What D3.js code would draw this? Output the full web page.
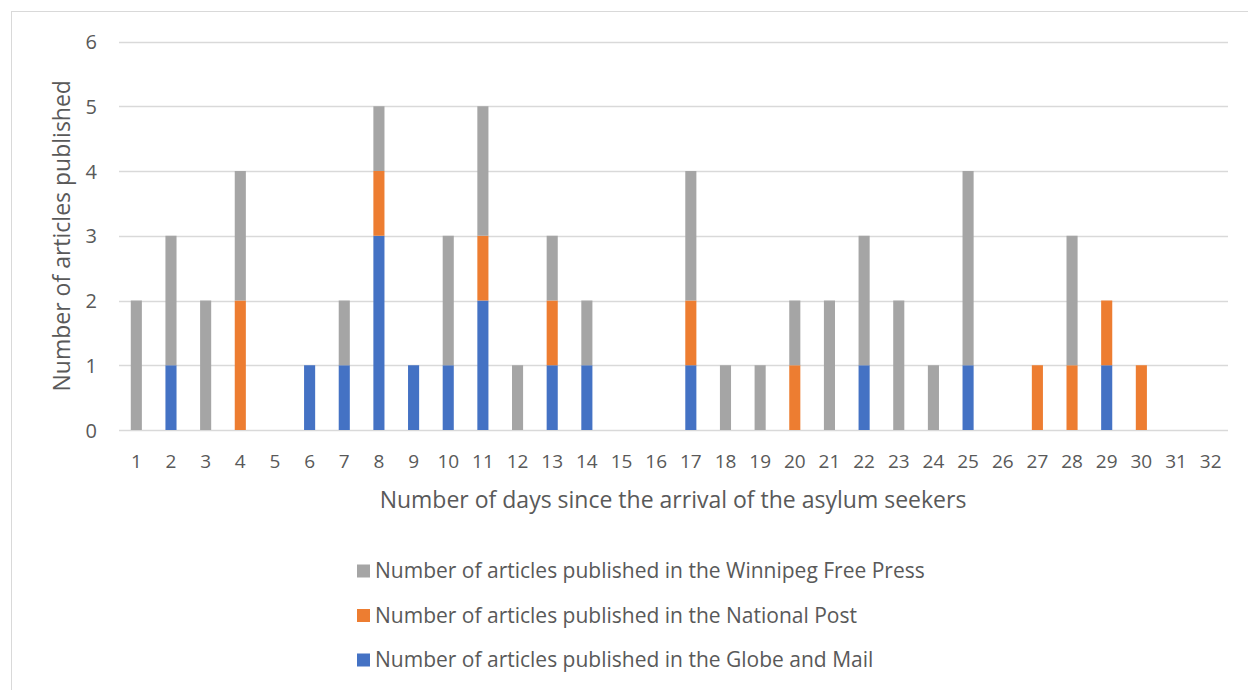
<!DOCTYPE html>
<html>
<head>
<meta charset="utf-8">
<script src="https://cdn.jsdelivr.net/npm/d3@7"></script>
<style>
  html, body { margin: 0; padding: 0; background: #fff; }
  svg { display: block; }
  text { font-family: "Open Sans", "Liberation Sans", sans-serif; fill: #595959; }
</style>
</head>
<body>
<svg id="chart" width="1248" height="690"></svg>
<script>
// Days since arrival (x categories)
const days = d3.range(1, 33).map(String);

// Articles per day, by newspaper
const globeAndMail   = [0,1,0,0,0,1,1,3,1,1,2,0,1,1,0,0,1,0,0,0,0,1,0,0,1,0,0,0,1,0,0,0];
const nationalPost   = [0,0,0,2,0,0,0,1,0,0,1,0,1,0,0,0,1,0,0,1,0,0,0,0,0,0,1,1,1,1,0,0];
const winnipegFree   = [2,2,2,2,0,0,1,1,0,2,2,1,1,1,0,0,2,1,1,1,2,2,2,1,3,0,0,2,0,0,0,0];

const yTicks = [0, 1, 2, 3, 4, 5, 6];

const seriesNames = [
  "Number of articles published in the Globe and Mail",
  "Number of articles published in the National Post",
  "Number of articles published in the Winnipeg Free Press"
];
const seriesColors = ["#4472c4", "#ed7d31", "#a5a5a5"];

// Build stacking table
const keys = ["g", "n", "w"];
const rows = days.map((d, i) => ({ day: d, g: globeAndMail[i], n: nationalPost[i], w: winnipegFree[i] }));
const stacked = d3.stack().keys(keys)(rows);

const svg = d3.select("#chart");

// Outer frame
svg.append("rect")
  .attr("x", 11.5).attr("y", 11.5)
  .attr("width", 1248).attr("height", 700)
  .attr("fill", "none").attr("stroke", "#d9d9d9").attr("stroke-width", 1);

const plot = { left: 119, right: 1228, top: 41.5, bottom: 430 };

const x = d3.scaleBand().domain(days).range([plot.left, plot.right]).paddingInner(0.68).paddingOuter(0.34);
const y = d3.scaleLinear().domain([0, 6]).range([plot.bottom, plot.top]);

// Gridlines
svg.append("g")
  .selectAll("line")
  .data(yTicks)
  .join("line")
  .attr("x1", plot.left).attr("x2", plot.right)
  .attr("y1", d => Math.round(y(d)) + 0.5).attr("y2", d => Math.round(y(d)) + 0.5)
  .attr("stroke", "#d9d9d9").attr("stroke-width", 1.3);

// Stacked bars
svg.append("g")
  .selectAll("g")
  .data(stacked)
  .join("g")
  .attr("fill", (s, i) => seriesColors[i])
  .selectAll("rect")
  .data(s => s.filter(d => d[1] > d[0]))
  .join("rect")
  .attr("x", d => x(d.data.day))
  .attr("width", x.bandwidth())
  .attr("y", d => y(d[1]))
  .attr("height", d => y(d[0]) - y(d[1]));

// Y axis labels
const yAxis = d3.axisLeft(y).tickValues(yTicks).tickFormat(d3.format("d")).tickSize(0).tickPadding(0);
const yg = svg.append("g").attr("transform", `translate(${plot.left - 22},0)`).call(yAxis);
yg.select(".domain").remove();
yg.selectAll("text").attr("font-size", 20).style("fill", "#595959").attr("dy", "0.35em")
  .style("font-family", '"Open Sans", sans-serif');

// X axis labels
const xAxis = d3.axisBottom(x).tickSize(0).tickPadding(0);
const xg = svg.append("g").attr("transform", `translate(0,${plot.bottom + 31})`).call(xAxis);
xg.select(".domain").remove();
xg.selectAll("text").attr("font-size", 19).style("fill", "#595959").attr("dy", "0.35em")
  .style("font-family", '"Open Sans", sans-serif');

// Axis titles
svg.append("text")
  .attr("transform", `translate(62,${(plot.top + plot.bottom) / 2}) rotate(-90)`)
  .attr("text-anchor", "middle").attr("dy", "0.35em")
  .attr("font-size", 23)
  .text("Number of articles published");

svg.append("text")
  .attr("x", 673).attr("y", 500)
  .attr("text-anchor", "middle").attr("dy", "0.35em")
  .attr("font-size", 23)
  .text("Number of days since the arrival of the asylum seekers");

// Legend (reverse order: Winnipeg, National Post, Globe)
const legendOrder = [2, 1, 0];
const lg = svg.append("g");
legendOrder.forEach((si, row) => {
  const cy = 571 + row * 44.5;
  lg.append("rect")
    .attr("x", 357).attr("y", cy - 6.5).attr("width", 13).attr("height", 13)
    .attr("fill", seriesColors[si]);
  lg.append("text")
    .attr("x", 375).attr("y", cy).attr("dy", "0.35em")
    .attr("font-size", 21)
    .text(seriesNames[si]);
});
</script>
</body>
</html>
